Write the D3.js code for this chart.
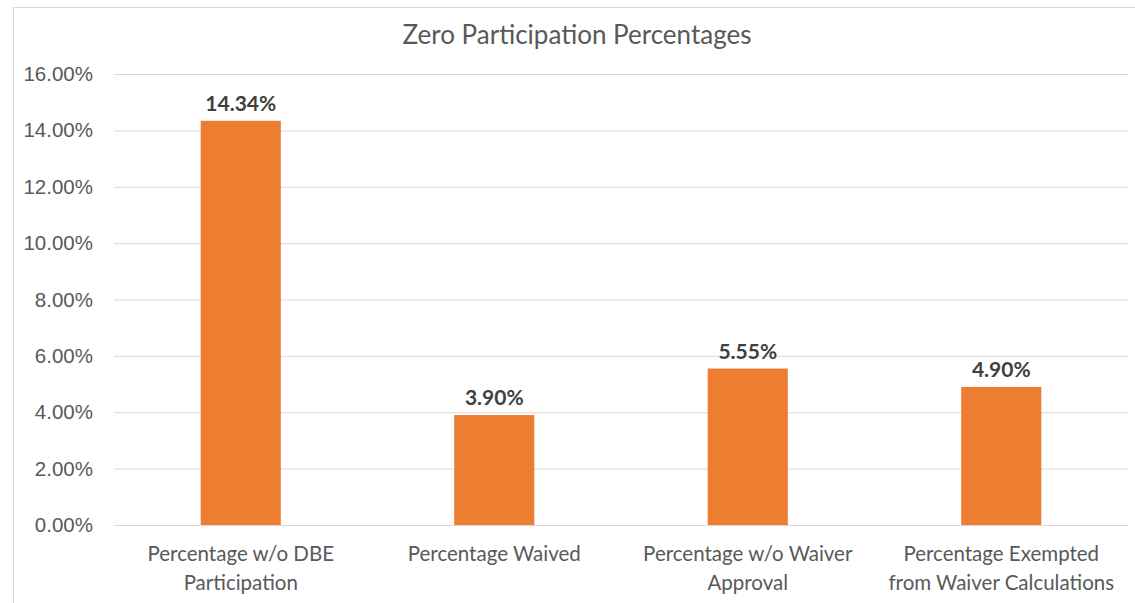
<!DOCTYPE html>
<html>
<head>
<meta charset="utf-8">
<script src="https://cdn.jsdelivr.net/npm/d3@7"></script>
<style>
  html, body { margin: 0; padding: 0; background: #fff; }
  svg { display: block; font-family: Lato, "Noto Sans", sans-serif; }
</style>
</head>
<body>
<div id="page"></div>
<script>
(function() {

  "use strict";

  // chart data
  var categories = [
    ["Percentage w/o DBE", "Participation"],
    ["Percentage Waived"],
    ["Percentage w/o Waiver", "Approval"],
    ["Percentage Exempted", "from Waiver Calculations"]
  ];
  var values = [0.1434, 0.039, 0.0555, 0.049];
  var yTicks = [0, 0.02, 0.04, 0.06, 0.08, 0.10, 0.12, 0.14, 0.16];

  var W = 1135, H = 603;
  var plot = { left: 114, right: 1128, top: 74, bottom: 525 };

  var svg = d3.select("#page").append("svg")
    .attr("width", W)
    .attr("height", H);

  // chart-area border (only left and top are visible in the frame)
  svg.append("rect")
    .attr("x", 13.5).attr("y", 7.5)
    .attr("width", W + 20).attr("height", H + 20)
    .attr("fill", "#fff")
    .attr("stroke", "#d9d9d9")
    .attr("stroke-width", 1);

  var x = d3.scaleBand()
    .domain(d3.range(categories.length))
    .range([plot.left, plot.right])
    .paddingInner(0.684)
    .paddingOuter(0.342);

  var y = d3.scaleLinear()
    .domain([0, 0.16])
    .range([plot.bottom, plot.top]);

  var fmt = d3.format(".2%");

  /* * * gridlines + y labels * * */

  var yAxis = d3.axisLeft(y)
    .tickValues(yTicks)
    .tickFormat(fmt)
    .tickSize(-(plot.right - plot.left))
    .tickPadding(21);

  var gy = svg.append("g")
    .attr("transform", "translate(" + plot.left + ",0)")
    .call(yAxis);

  gy.select(".domain").remove();
  gy.selectAll(".tick line")
    .attr("stroke", "#d9d9d9")
    .attr("stroke-width", 1);
  gy.selectAll(".tick text")
    .attr("fill", "#595959")
    .style("font-size", "20.5px");

  /* * * bars * * */

  svg.append("g").selectAll("rect")
    .data(values)
    .join("rect")
    .attr("x", function(d, i) { return x(i); })
    .attr("y", function(d) { return y(d); })
    .attr("width", x.bandwidth())
    .attr("height", function(d) { return y(0) - y(d); })
    .attr("fill", "#ed7d31");

  /* * * data labels * * */

  svg.append("g").selectAll("text")
    .data(values)
    .join("text")
    .attr("x", function(d, i) { return x(i) + x.bandwidth() / 2; })
    .attr("y", function(d) { return y(d) - 10; })
    .attr("text-anchor", "middle")
    .attr("fill", "#404040")
    .style("font-size", "21px")
    .style("font-weight", "bold")
    .text(fmt);

  /* * * category labels * * */

  var gx = svg.append("g");
  categories.forEach(function(lines, i) {
    var t = gx.append("text")
      .attr("x", x(i) + x.bandwidth() / 2)
      .attr("y", 561)
      .attr("text-anchor", "middle")
      .attr("fill", "#595959")
      .style("font-size", "20.5px");
    lines.forEach(function(line, j) {
      t.append("tspan")
        .attr("x", x(i) + x.bandwidth() / 2)
        .attr("dy", j === 0 ? 0 : 29)
        .text(line);
    });
  });

  /* * * title * * */

  svg.append("text")
    .attr("x", 577)
    .attr("y", 44)
    .attr("text-anchor", "middle")
    .attr("fill", "#595959")
    .style("font-size", "26px")
    .text("Zero Participation Percentages");

})();
</script>
</body>
</html>
